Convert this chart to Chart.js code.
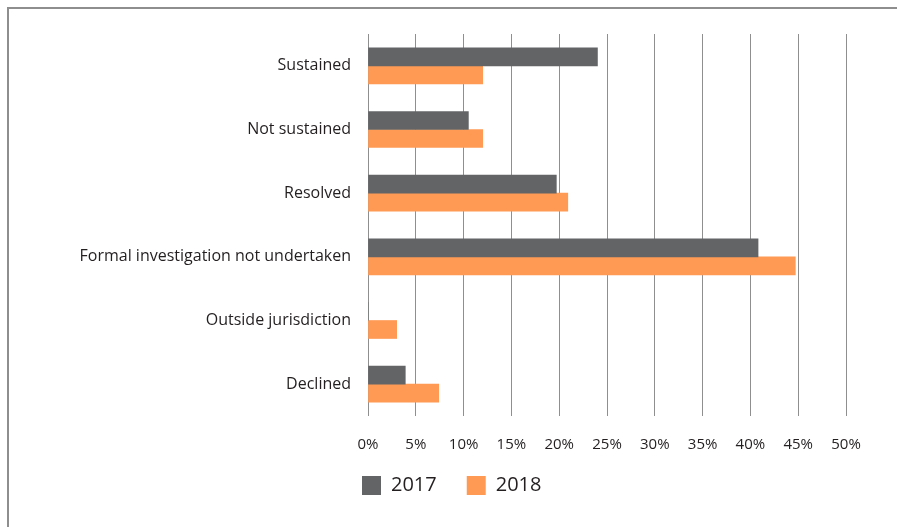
<!DOCTYPE html>
<html>
<head>
<meta charset="utf-8">
<script src="https://cdn.jsdelivr.net/npm/chart.js@4.4.1/dist/chart.umd.min.js"></script>
<style>
  body { margin: 0; background: #fff; }
  #wrap { position: relative; width: 897px; height: 527px; overflow: hidden; }
  /* grey frame on the top and left edges */
  #frame {
    position: absolute; left: 7px; top: 7px; width: 900px; height: 530px;
    border-top: 2px solid #8e8e8e; border-left: 2px solid #8e8e8e;
  }
  #outcomeChart { position: absolute; left: 0; top: 0; }
</style>
</head>
<body>
<div id="wrap">
  <div id="frame"></div>
  <canvas id="outcomeChart" width="897" height="527"></canvas>
</div>
<script>
// Complaint outcomes, share of all closed complaints
const categories = [
    'Sustained',
    'Not sustained',
    'Resolved',
    'Formal investigation not undertaken',
    'Outside jurisdiction',
    'Declined'
];
const seriesNames = ['2017', '2018'];
const values2017 = [24, 10.5, 19.7, 40.8, 0, 3.9];
const values2018 = [12, 12, 20.9, 44.7, 3, 7.4];
const xTicks = [0, 5, 10, 15, 20, 25, 30, 35, 40, 45, 50];

const textColor = '#231f20';
const fontFamily = '"Open Sans", "Liberation Sans", sans-serif';

// Moves the legend under the plot, lined up with the 0% gridline
const legendPlacer = {
    id: 'legendPlacer',
    afterLayout(chart) {
        const lg = chart.legend;
        const w = lg.width;
        const h = lg.height;
        lg.left = 332;
        lg.right = lg.left + w;
        lg.top = 445.5;
        lg.bottom = lg.top + h;
    }
};

const ctx = document.getElementById('outcomeChart').getContext('2d');
const outcomeChart = new Chart(ctx, {
    type: 'bar',
    data: {
        labels: categories,
        datasets: [{
            label: seriesNames[0],
            data: values2017,
            backgroundColor: '#636466',
            barThickness: 18,
            borderWidth: 0
        }, {
            label: seriesNames[1],
            data: values2018,
            backgroundColor: '#ff9a55',
            barThickness: 18,
            borderWidth: 0
        }]
    },
    options: {
        indexAxis: 'y',
        responsive: false,
        animation: false,
        layout: {
            padding: { top: 34, right: 51, bottom: 11, left: 0 }
        },
        scales: {
            x: {
                min: 0,
                max: 50,
                afterBuildTicks: scale => {
                    scale.ticks = xTicks.map(v => ({ value: v }));
                },
                afterFit: scale => { scale.height = 40; },
                grid: { color: '#8f8f8f', lineWidth: 1, drawTicks: false },
                border: { display: false },
                ticks: {
                    padding: 20,
                    color: textColor,
                    font: { family: fontFamily, size: 15 },
                    callback: v => v + '%'
                }
            },
            y: {
                afterFit: scale => { scale.width = 368; },
                grid: { display: false },
                border: { display: false },
                ticks: {
                    padding: 9,
                    color: textColor,
                    font: { family: fontFamily, size: 16 }
                }
            }
        },
        plugins: {
            legend: {
                position: 'bottom',
                align: 'start',
                labels: {
                    boxWidth: 19,
                    boxHeight: 19,
                    padding: 30,
                    color: textColor,
                    font: { family: fontFamily, size: 20 }
                }
            },
            tooltip: { enabled: false }
        }
    },
    plugins: [legendPlacer]
});
</script>
</body>
</html>
